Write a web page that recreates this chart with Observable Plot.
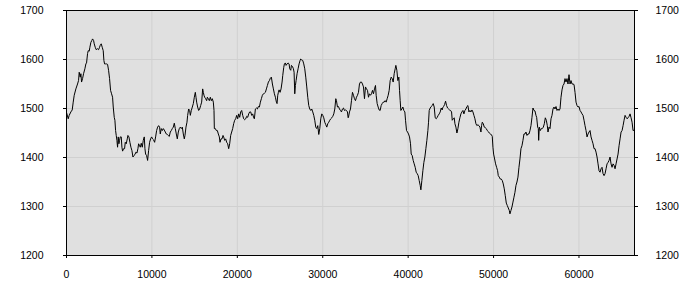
<!DOCTYPE html>
<html>
<head>
<meta charset="utf-8">
<script src="https://cdn.jsdelivr.net/npm/d3@7"></script>
<script src="https://cdn.jsdelivr.net/npm/@observablehq/plot@0.6"></script>
<style>
  html, body { margin: 0; padding: 0; background: #ffffff; }
  #chart { width: 700px; height: 300px; }
</style>
</head>
<body>
<div id="chart"></div>
<script>
const xTicks = [0, 10000, 20000, 30000, 40000, 50000, 60000];
const yTicks = [1200, 1300, 1400, 1500, 1600, 1700];

const xs = [
0,200,316,512,668,785,902,1098,1293,1410,1488,1605,1684,1762,1879,1996,2152,2269,2348,2465,2543,2660,2738,2855,2972,3051,3168,3246,3363,3480,3637,3754,3871,3949,4066,4183,4300,4379,4457,4574,4691,4808,4926,5043,5160,5277,5394,5472,5589,5668,5746,5824,5902,5980,6058,6136,6214,6293,6410,6488,6566,6683,6801,6879,6996,7113,7191,7308,7425,7543,7660,7777,7894,8011,8128,8246,8363,8441,8558,8636,8753,8871,8988,9105,9183,9261,9378,9496,9613,9730,9847,9964,10081,10198,10316,10433,10550,10667,10784,10901,
10980,11098,11215,11332,11449,11566,11683,11801,11918,12035,12152,12269,12387,12504,12621,12738,12855,12972,13090,13207,13324,13441,13558,13676,13793,13871,13988,14105,14183,14300,14418,14496,14613,14730,14847,14964,15082,15160,15238,15355,15472,15589,15707,15824,15941,16019,16097,16175,16293,16410,16488,16605,16722,16839,16957,17074,17191,17269,17308,17425,17543,17660,17777,17894,17972,18089,18206,18324,18402,18519,18636,18753,18870,18987,19105,19222,19339,19456,19573,19691,19808,19925,20042,20159,20277,20394,20511,20628,20745,20862,20980,21097,21214,21331,21448,21566,21683,21800,21917,
21996,22114,22231,22348,22465,22582,22699,22817,22934,23051,23168,23285,23403,23520,23637,23754,23871,23988,24106,24223,24340,24457,24574,24652,24731,24809,24887,25004,25121,25238,25316,25434,25512,25629,25707,25824,25941,26059,26137,26254,26332,26449,26566,26645,26723,26801,26879,26996,27113,27230,27348,27426,27543,27660,27777,27894,28012,28129,28246,28363,28480,28598,28715,28832,28949,29066,29183,29301,29418,29535,29652,29769,29887,30004,30121,30238,30355,30473,30590,30707,30824,30941,31058,31176,31293,31410,31527,31605,31723,31840,31957,32074,32191,32308,32426,32543,32660,32777,32894,32972,
33012,33130,33247,33364,33481,33598,33715,33833,33950,34067,34184,34301,34419,34536,34653,34770,34887,35004,35122,35239,35356,35473,35590,35708,35825,35942,36059,36176,36254,36372,36489,36606,36723,36840,36957,37075,37192,37309,37426,37543,37661,37778,37895,38012,38129,38246,38364,38481,38559,38676,38793,38910,38989,39067,39145,39262,39379,39496,39614,39692,39809,39926,40043,40160,40278,40356,40473,40590,40707,40824,40942,41059,41176,41293,41410,41488,41606,41723,41840,41957,42074,42191,42309,42387,42465,42582,42699,42816,42934,43051,43168,43285,43402,43520,43637,43754,43871,43988,
44028,44146,44263,44380,44497,44614,44731,44849,44966,45083,45161,45278,45395,45474,45591,45708,45825,45942,46059,46177,46294,46411,46528,46645,46763,46880,46997,47114,47231,47348,47466,47583,47700,47817,47934,48052,48169,48286,48403,48520,48598,48677,48794,48911,49028,49145,49262,49380,49497,49614,49731,49848,49926,50005,50122,50239,50356,50473,50551,50669,50786,50903,51020,51137,51254,51372,51489,51606,51723,51840,51918,52036,52153,52270,52387,52504,52621,52739,52856,52973,53090,53207,53325,53442,53559,53676,53793,53911,54028,54145,54262,54379,54496,54614,54731,54848,54965,
55044,55162,55240,55279,55357,55474,55591,55708,55826,55943,56060,56177,56294,56372,56490,56607,56724,56841,56958,57075,57193,57310,57427,57544,57661,57779,57896,58013,58130,58247,58364,58482,58599,58716,58833,58950,59068,59185,59302,59419,59536,59654,59771,59888,60005,60122,60239,60357,60474,60591,60708,60825,60943,61060,61177,61294,61411,61528,61646,61763,61880,61997,62114,62231,62349,62466,62583,62700,62817,62935,63052,63169,63286,63403,63521,63638,63755,63872,63989,64106,64224,64341,64458,64575,64692,64810,64927,65044,65161,65278,65396,65513,65630,65747,65864,65981,66099,66216,66333,66450
];

const ys = [
1492,1479,1486,1493,1497,1513,1527,1540,1550,1557,1574,1564,1571,1554,1561,1571,1581,1591,1593,1612,1618,1617,1625,1635,1639,1642,1639,1632,1625,1620,1622,1620,1625,1629,1632,1625,1618,1598,1591,1591,1591,1590,1578,1561,1537,1530,1523,1503,1482,1476,1455,1445,1435,1421,1442,1428,1435,1442,1442,1421,1413,1418,1418,1431,1428,1438,1445,1442,1431,1421,1414,1401,1404,1406,1411,1409,1418,1428,1424,1421,1429,1421,1435,1442,1418,1407,1404,1394,1414,1431,1438,1442,1438,1436,1431,1442,1455,1462,1465,1462,
1448,1459,1455,1459,1456,1452,1448,1447,1445,1443,1452,1455,1459,1462,1470,1459,1448,1438,1452,1459,1462,1459,1462,1448,1438,1445,1462,1472,1486,1499,1496,1486,1496,1503,1510,1523,1533,1523,1513,1503,1496,1499,1506,1513,1540,1533,1527,1523,1520,1516,1523,1520,1516,1523,1516,1520,1513,1496,1459,1459,1455,1455,1448,1442,1431,1438,1438,1445,1442,1435,1438,1431,1428,1418,1428,1445,1452,1459,1469,1476,1479,1486,1479,1489,1482,1493,1496,1486,1479,1477,1479,1484,1482,1489,1493,1493,1486,1489,1481,
1479,1499,1501,1499,1504,1503,1513,1520,1527,1530,1531,1533,1540,1547,1554,1557,1562,1564,1550,1540,1530,1523,1513,1510,1527,1533,1538,1533,1540,1554,1567,1584,1591,1593,1588,1591,1593,1591,1581,1578,1588,1586,1581,1574,1530,1547,1557,1571,1581,1591,1598,1601,1599,1598,1591,1581,1564,1544,1523,1506,1499,1496,1499,1493,1486,1476,1462,1459,1465,1447,1459,1479,1489,1486,1481,1472,1467,1462,1469,1472,1476,1479,1481,1484,1489,1499,1520,1516,1503,1504,1499,1496,1493,1499,1501,1496,1497,1496,1493,1481,
1482,1493,1499,1516,1533,1527,1520,1516,1523,1527,1533,1550,1554,1554,1550,1544,1520,1544,1540,1537,1523,1530,1527,1530,1537,1530,1540,1547,1527,1510,1503,1497,1496,1506,1510,1513,1513,1516,1513,1520,1527,1537,1557,1564,1561,1554,1571,1581,1588,1578,1557,1564,1537,1516,1496,1499,1503,1496,1493,1476,1455,1452,1448,1442,1428,1407,1404,1394,1387,1380,1370,1367,1363,1353,1343,1334,1353,1373,1390,1401,1418,1435,1455,1472,1496,1501,1504,1506,1510,1503,1481,1479,1482,1486,1489,1493,1501,1497,
1501,1504,1508,1515,1506,1501,1499,1497,1496,1493,1476,1479,1481,1469,1462,1450,1459,1472,1481,1489,1493,1496,1489,1496,1499,1504,1506,1493,1496,1493,1497,1493,1486,1479,1469,1465,1467,1465,1462,1452,1465,1472,1469,1462,1461,1459,1455,1453,1450,1448,1447,1443,1421,1407,1397,1387,1380,1373,1363,1360,1356,1356,1353,1346,1336,1322,1307,1302,1297,1292,1285,1292,1299,1309,1319,1329,1343,1350,1360,1380,1397,1418,1424,1435,1448,1448,1452,1445,1448,1448,1455,1465,1482,1501,1496,1495,1486,
1482,1462,1459,1435,1462,1455,1459,1459,1462,1469,1481,1476,1465,1452,1462,1459,1479,1486,1499,1503,1499,1504,1496,1499,1496,1499,1523,1538,1547,1550,1561,1554,1561,1550,1569,1550,1557,1550,1550,1549,1533,1513,1506,1503,1504,1496,1493,1489,1486,1476,1465,1455,1442,1448,1452,1455,1442,1435,1428,1418,1418,1411,1401,1387,1373,1370,1377,1380,1367,1363,1367,1377,1387,1390,1394,1401,1387,1380,1387,1384,1377,1387,1397,1407,1424,1438,1452,1455,1465,1476,1486,1482,1479,1481,1484,1489,1481,1472,1455,1456
];

const data = xs.map((x, i) => ({x, y: ys[i]}));

const chart = Plot.plot({
  width: 700,
  height: 300,
  marginLeft: 66,
  marginRight: 66,
  marginTop: 10,
  marginBottom: 45,
  style: {fontFamily: "'Liberation Sans', Arial, sans-serif", fontSize: "10.5px", color: "black", background: "white"},
  x: {domain: [0, 66500]},
  y: {domain: [1200, 1700]},
  marks: [
    Plot.frame({fill: "#e0e0e0", stroke: null}),
    Plot.gridX(xTicks, {stroke: "#d0d0d0", strokeOpacity: 1}),
    Plot.gridY(yTicks, {stroke: "#d0d0d0", strokeOpacity: 1}),
    Plot.line(data, {x: "x", y: "y", stroke: "black", strokeWidth: 1}),
    Plot.frame({stroke: "black", strokeWidth: 1}),
    Plot.axisX(xTicks, {anchor: "bottom", tickSize: 3, tickPadding: 12, tickFormat: d => String(d), label: null, stroke: "black"}),
    Plot.axisY(yTicks, {anchor: "left", tickSize: 3, tickPadding: 20, tickFormat: d => String(d), label: null, stroke: "black"}),
    Plot.axisY(yTicks, {anchor: "right", tickSize: 3, tickPadding: 18, tickFormat: d => String(d), label: null, stroke: "black"})
  ]
});
document.getElementById("chart").appendChild(chart);
</script>
</body>
</html>
